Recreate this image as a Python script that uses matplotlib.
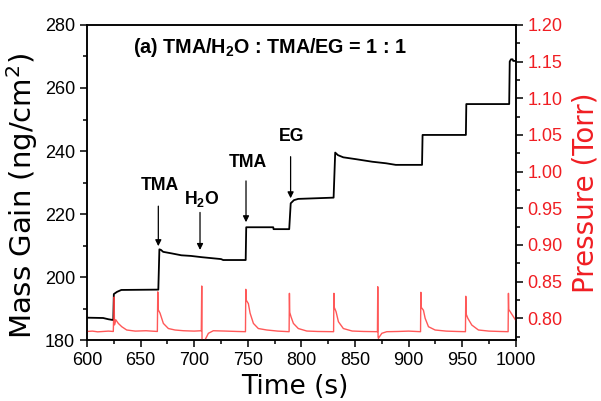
import numpy as np
import matplotlib
matplotlib.use('Agg')
import matplotlib.pyplot as plt
from matplotlib.ticker import MultipleLocator

plt.rcParams['font.family'] = ['Liberation Sans', 'DejaVu Sans']
plt.rcParams['mathtext.fontset'] = 'custom'
plt.rcParams['mathtext.rm'] = 'Liberation Sans'
plt.rcParams['mathtext.bf'] = 'Liberation Sans:bold'
plt.rcParams['mathtext.default'] = 'regular'

RED = '#f01e23'

# mass gain trace
mass_t = [600, 615, 620, 623.5, 624.5, 625, 628, 632, 665, 666.5, 667.5, 669, 671, 679,
          688, 697, 707, 716, 725, 727, 748, 748.5, 773.7, 774, 788.6, 790, 793, 797,
          830, 831.5, 834, 839, 851, 866, 879, 888, 912.5, 913, 953.4, 953.8, 993.8,
          994.3, 995.5, 997, 997.5, 1000]
mass = [187.1, 187.0, 186.6, 186.4, 186.4, 194.6, 195.3, 195.9, 196.0, 196.0, 208.8, 208.6,
        208.0, 207.5, 206.9, 206.7, 206.3, 206.0, 205.7, 205.4, 205.4, 215.8, 215.8, 215.2,
        215.2, 223.4, 224.4, 224.8, 225.2, 239.5, 238.7, 238.0, 237.4, 236.6, 236.1, 235.6,
        235.6, 245.1, 245.1, 254.9, 254.9, 268.4, 269.1, 269.1, 268.6, 268.6]

# chamber pressure trace
pres_t = [600, 605, 610, 615, 620, 624.5, 625.3, 625.6, 626.8, 629.2, 632.4, 637, 645, 655,
          665.6, 666.0, 666.3, 668.1, 671.2, 675.9, 682.1, 690, 700, 706.6,
          707.0, 707.3, 708.5, 713.2, 717.8, 730, 740, 747.8,
          748.1, 748.4, 750.5, 752.1, 755.2, 759.8, 767.7, 778, 788.5,
          788.8, 789.1, 790.3, 792.5, 797.1, 805, 815, 830.0,
          830.3, 830.6, 832.3, 834.5, 839.1, 847.3, 858, 870.9,
          871.2, 871.5, 871.8, 875, 879.6, 890, 900, 911.1,
          911.4, 911.7, 913.8, 915.4, 918.5, 924.7, 935, 945, 953.0,
          953.3, 953.6, 955.2, 958.9, 965.1, 975, 985, 992.8,
          993.1, 993.4, 997.8, 1000]
pres = [0.782, 0.7825, 0.7815, 0.782, 0.7825, 0.782, 0.829, 0.791, 0.798, 0.793, 0.7885, 0.784, 0.7825, 0.783,
        0.782, 0.836, 0.812, 0.807, 0.793, 0.786, 0.784, 0.783, 0.7825, 0.783,
        0.844, 0.766, 0.766, 0.7795, 0.783, 0.7825, 0.782, 0.7817,
        0.8395, 0.825, 0.820, 0.807, 0.793, 0.786, 0.784, 0.7825, 0.7817,
        0.834, 0.808, 0.802, 0.793, 0.786, 0.7826, 0.782, 0.7817,
        0.834, 0.815, 0.809, 0.7953, 0.786, 0.7826, 0.782, 0.7817,
        0.843, 0.775, 0.7727, 0.7795, 0.7817, 0.782, 0.7825, 0.7817,
        0.8354, 0.815, 0.811, 0.800, 0.7885, 0.784, 0.7825, 0.782, 0.7817,
        0.830, 0.806, 0.800, 0.7908, 0.784, 0.7825, 0.782, 0.7817,
        0.834, 0.812, 0.802, 0.797]

# arrow labels: text, text pos, arrow tail, arrow tip (time, mass)
notes = [('TMA', (668, 226.5), (666.5, 222.5), (666.5, 209.8)),
         ('H$_\\mathbf{2}$O', (707, 221.5), (705.4, 220.5), (705.4, 208.6)),
         ('TMA', (750.5, 233.5), (748.3, 230.5), (748.3, 217.4)),
         ('EG', (791, 241.8), (789.9, 238.2), (789.9, 225.0))]

fig = plt.figure(figsize=(6.01, 4.01), dpi=100)
ax = fig.add_axes([0.1448, 0.152, 0.7135, 0.7857])
ax2 = ax.twinx()

ax.plot(mass_t, mass, color='k', lw=1.3, zorder=3)
ax2.plot(pres_t, pres, color='#ff3b3b', lw=1.0, alpha=0.85)

ax.set_xlim(600, 1000)
ax.set_ylim(180, 280)
ax2.set_ylim(0.7703, 1.20)

ax.xaxis.set_major_locator(MultipleLocator(50))
ax.xaxis.set_minor_locator(MultipleLocator(25))
ax.yaxis.set_major_locator(MultipleLocator(20))
ax.yaxis.set_minor_locator(MultipleLocator(10))
ax2.yaxis.set_major_locator(MultipleLocator(0.05))
ax2.yaxis.set_minor_locator(MultipleLocator(0.025))
ax2.yaxis.set_major_formatter(plt.FormatStrFormatter('%.2f'))

ax.tick_params(which='both', direction='out', width=1.1, labelsize=13, top=False)
ax.tick_params(which='major', length=5)
ax.tick_params(which='minor', length=3)
ax2.tick_params(which='both', direction='out', width=1.1, labelsize=13, labelcolor=RED, color='k')
ax2.tick_params(which='major', length=5)
ax2.tick_params(which='minor', length=3)
for s in ax.spines.values():
    s.set_linewidth(1.1)
for s in ax2.spines.values():
    s.set_linewidth(1.1)

lab_font = ['DejaVu Sans']
ax.set_xlabel('Time (s)', fontsize=19, family=lab_font)
ax.set_ylabel('Mass Gain (ng/cm$^2$)', fontsize=21, family=lab_font)
ax2.set_ylabel('Pressure (Torr)', fontsize=20, color=RED, family=lab_font)
ax.xaxis.set_label_coords(0.485, -0.108)
ax.yaxis.set_label_coords(-0.11, 0.457)
ax2.yaxis.set_label_coords(1.13, 0.466)

ax.text(0.107, 0.93, '(a) TMA/H$_\\mathbf{2}$O : TMA/EG = 1 : 1', transform=ax.transAxes,
        fontsize=14.2, fontweight='bold', va='center', ha='left')

for label, tpos, tail, tip in notes:
    ax.text(tpos[0], tpos[1], label, fontsize=12.7, fontweight='bold', ha='center', va='bottom')
    ax.annotate('', xy=tip, xytext=tail,
                arrowprops=dict(arrowstyle='-|>', color='k', lw=0.9, mutation_scale=9,
                                shrinkA=0, shrinkB=0))

fig.savefig('out.png', dpi=100)
